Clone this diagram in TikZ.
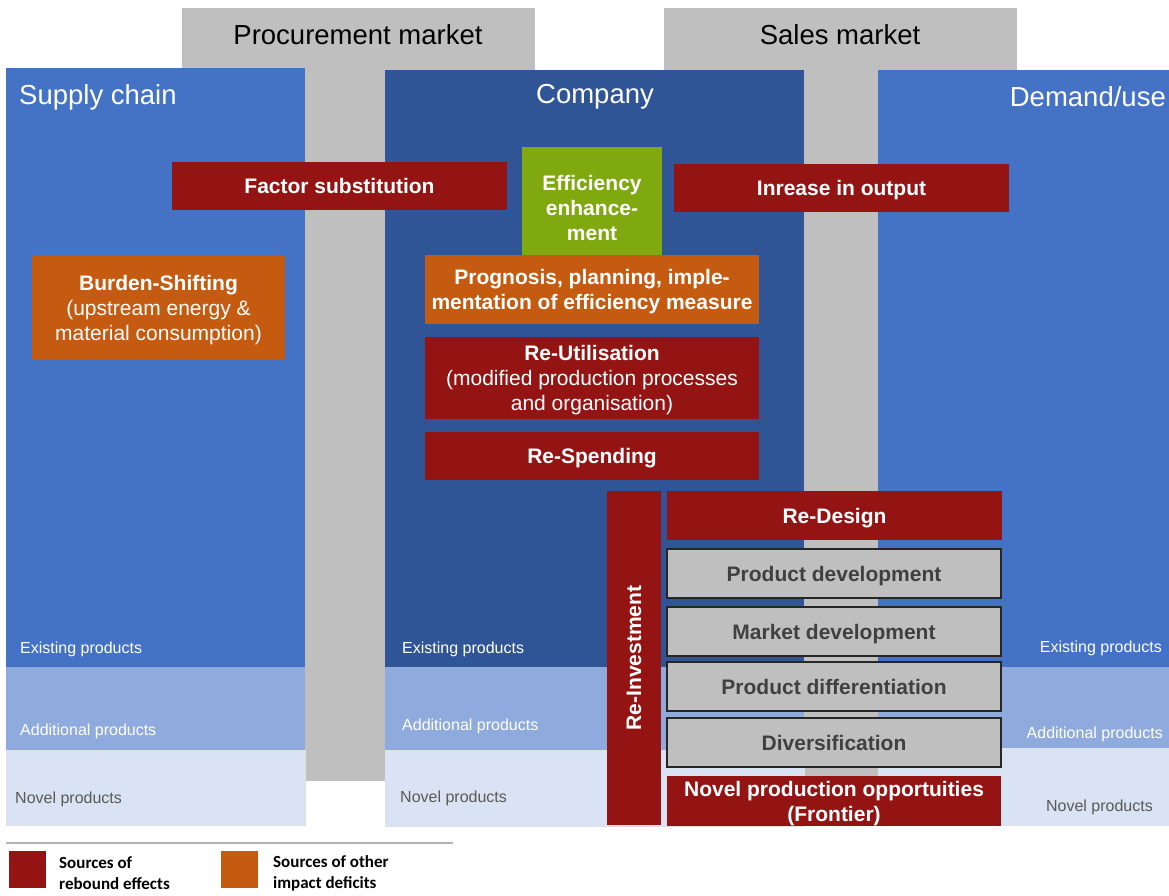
\documentclass[tikz,border=0pt]{standalone}
\usepackage{fontspec}
\setmainfont{Liberation Sans}
\newfontfamily\legendfont{Carlito}
\usepackage{tikz}

\definecolor{rebound}{HTML}{941414}
\definecolor{deficit}{HTML}{C55A11}
\definecolor{efficiency}{HTML}{80A80F}
\definecolor{market}{HTML}{BFBFBF}
\definecolor{existing}{HTML}{4472C4}
\definecolor{companyblue}{HTML}{2F5597}
\definecolor{additional}{HTML}{8FAADC}
\definecolor{novel}{HTML}{DAE3F3}

\begin{document}
\begin{tikzpicture}[x=1pt,y=-1pt,
  box/.style={inner sep=2pt,outer sep=0pt,align=center,text=white,text depth=0pt,
    font=\fontsize{21}{25}\selectfont\bfseries},
  redbox/.style={box,fill=rebound},
  orangebox/.style={box,fill=deficit},
  graybox/.style={box,fill=market,draw=black!85,line width=1.5pt,text=black!75},
  head/.style={inner sep=0pt,font=\fontsize{27.5}{30}\selectfont},
  tag/.style={inner sep=0pt,font=\fontsize{16}{18}\selectfont,text=white},
  legend/.style={inner sep=0pt,align=left,font=\fontsize{17}{21}\selectfont\legendfont\bfseries}]
\useasboundingbox (0,0) rectangle (1169,896);

% markets behind the three panels
\fill[market] (182,8) rectangle (535,781);
\fill[market] (664,8) rectangle (1017,781);
\node[head] (procurement) at (358,35) {Procurement market};
\node[head] (sales) at (840,35) {Sales market};

% supply chain
\fill[existing] (6,68) rectangle (305,667);
\fill[additional] (6,667) rectangle (305,750);
\filldraw[novel,draw=black!12] (6,750) rectangle (305,825);
\node[head,text=white,anchor=west] (supply) at (19,97) {Supply chain};
\node[tag,anchor=west] (supplyex) at (20,649) {Existing products};
\node[tag,anchor=west] (supplyadd) at (20,731) {Additional products};
\node[tag,anchor=west,text=black!65] (supplynov) at (15,799) {Novel products};

% company
\fill[companyblue] (385,70) rectangle (804,667);
\fill[additional] (385,667) rectangle (804,750);
\filldraw[novel,draw=black!12] (385,750) rectangle (804,826);
\node[head,text=white] (company) at (595,97) {Company};
\node[tag,anchor=west] (companyex) at (402,649) {Existing products};
\node[tag,anchor=west] (companyadd) at (402,726) {Additional products};
\node[tag,anchor=west,text=black!65] (companynov) at (400,798) {Novel products};

% demand / use
\fill[existing] (878,70) rectangle (1169,667);
\fill[additional] (878,667) rectangle (1169,748);
\fill[novel] (878,748) rectangle (1169,826);
\node[head,text=white,anchor=east] (demand) at (1166,97) {Demand/use};
\node[tag,anchor=east] (demandex) at (1162,648) {Existing products};
\node[tag,anchor=east] (demandadd) at (1163,734) {Additional products};
\node[tag,anchor=east,text=black!65] (demandnov) at (1153,807) {Novel products};

% effects
\node[redbox,minimum width=335,minimum height=48] (factor) at (339.5,186) {Factor substitution};
\node[box,fill=efficiency,minimum width=140,minimum height=121] (efficiency) at (592,207.5) {Efficiency\\enhance-\\ment};
\node[redbox,minimum width=335,minimum height=48] (output) at (841.5,188) {Inrease in output};
\node[orangebox,font=\fontsize{21}{25}\selectfont,minimum width=253,minimum height=105] (burden) at (158.5,307.5)
  {\textbf{Burden-Shifting}\\(upstream energy \&\\material consumption)};
\node[orangebox,minimum width=334,minimum height=69] (prognosis) at (592,289.5)
  {Prognosis, planning, imple-\\mentation of efficiency measure};
\node[redbox,font=\fontsize{21}{25}\selectfont,minimum width=334,minimum height=82] (reutil) at (592,378)
  {\textbf{Re-Utilisation}\\(modified production processes\\and organisation)};
\node[redbox,minimum width=334,minimum height=48] (respend) at (592,456) {Re-Spending};
\node[redbox,rotate=90,minimum width=334,minimum height=54] (reinvest) at (634,658) {Re-Investment};
\node[redbox,minimum width=335,minimum height=49] (redesign) at (834.5,515.5) {Re-Design};
\node[graybox,minimum width=334,minimum height=49] (proddev) at (834,573.5) {Product development};
\node[graybox,minimum width=334,minimum height=49] (marketdev) at (834,631.5) {Market development};
\node[graybox,minimum width=334,minimum height=49] (proddiff) at (834,686.5) {Product differentiation};
\node[graybox,minimum width=334,minimum height=49] (divers) at (834,742.5) {Diversification};
\node[redbox,minimum width=334,minimum height=50] (frontier) at (834,801) {Novel production opportuities\\(Frontier)};

% legend
\draw[black!30,line width=1.5pt] (6,843) -- (453,843);
\node[fill=rebound,minimum size=37,inner sep=0pt] (lgrebound) at (27,869.5) {};
\node[legend,anchor=west] (lgreboundtxt) at (59,873) {Sources of\\rebound effects};
\node[fill=deficit,minimum size=37,inner sep=0pt] (lgdeficit) at (239,869.5) {};
\node[legend,anchor=west] (lgdeficittxt) at (273,873) {Sources of other\\impact deficits};
\end{tikzpicture}
\end{document}
